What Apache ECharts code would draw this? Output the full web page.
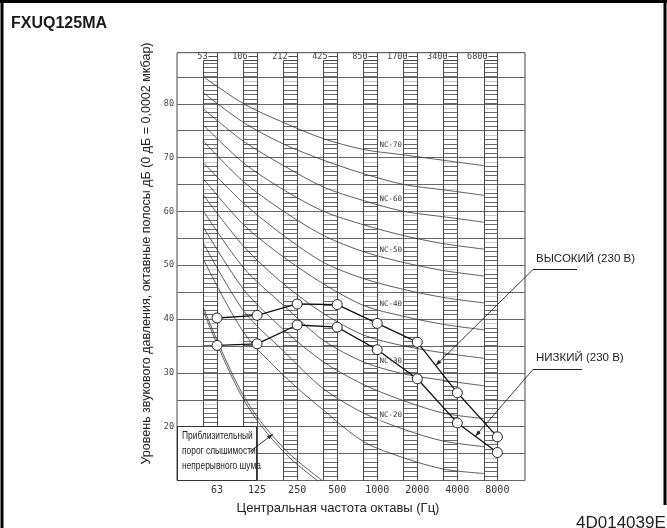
<!DOCTYPE html>
<html><head><meta charset="utf-8">
<script src="https://cdn.jsdelivr.net/npm/echarts@6/dist/echarts.min.js"></script>
<style>html,body{margin:0;padding:0;background:#fff}#c{width:667px;height:528px}</style>
</head><body><div id="c"></div>
<script>
// ---------- data ----------
const freqLabels = ['63', '125', '250', '500', '1000', '2000', '4000', '8000'];
const bandEdgeLabels = ['53', '106', '212', '425', '850', '1700', '3400', '6800'];
const yTickLabels = [20, 30, 40, 50, 60, 70, 80];
const highLevels = [40.2, 40.7, 42.8, 42.7, 39.2, 35.7, 26.3, 18.1];
const lowLevels = [35.1, 35.4, 38.9, 38.5, 34.3, 28.9, 20.7, 15.2];
const nc70 = [85, 80, 76.5, 73.5, 71.5, 70.5, 69.5, 68.5];
const nc65 = [82, 76.5, 72.5, 69.5, 67, 65, 64, 63];
const nc60 = [79, 73, 68.5, 64.5, 62, 60, 59, 58];
const nc55 = [76, 69, 64, 60, 57.5, 55.5, 54, 53];
const nc50 = [73, 65.5, 60, 55.5, 52.5, 50.5, 49, 48];
const nc45 = [69, 61.5, 55.5, 50.5, 47.5, 45.5, 44, 43];
const nc40 = [66, 57.5, 51.5, 46.5, 42.5, 40.5, 39, 38];
const nc35 = [63, 53.5, 46.5, 41, 37, 35, 33.7, 32.7];
const nc30 = [60, 49.5, 42.5, 36, 32, 29.8, 28.6, 27.6];
const nc25 = [57, 45.5, 38, 32, 27.8, 24.8, 22.5, 21.5];
const nc20 = [54, 41.5, 34, 27, 22.5, 19.5, 17.3, 16.3];
const nc15 = [51, 37.5, 29.5, 23, 17.2, 14.2, 12.1, 11.3];
const ncNames = ['NC-70', 'NC-65', 'NC-60', 'NC-55', 'NC-50', 'NC-45', 'NC-40', 'NC-35', 'NC-30', 'NC-25', 'NC-20', 'NC-15'];
const labeledNC = ['NC-70', 'NC-60', 'NC-50', 'NC-40', 'NC-30', 'NC-20'];
const thresholdA = [42, 25.7, 16, 9.8];
const thresholdB = [41.3, 25.0, 15.3, 9.1];
const highName = 'ВЫСОКИЙ (230 В)';
const lowName = 'НИЗКИЙ (230 В)';
const thresholdText = ['Приблизительный', 'порог слышимости', 'непрерывного шума'];

// ---------- layout ----------
const X_MIN = -1, X_MAX = 7.69, Y_MIN = 10, Y_MAX = 89.5;
const COL_W = 1 / 3, COL_TOP = 88, HATCH = 5 / 6, NC_OFFSET = -1 / 3;
const LABEL_T = 0.67, LABEL_LIFT = 1.6;
const ncCurves = [nc70, nc65, nc60, nc55, nc50, nc45, nc40, nc35, nc30, nc25, nc20, nc15];
const mono = '"DejaVu Sans Mono", monospace';
const sans = '"Liberation Sans", Arial, sans-serif';
const snap = v => Math.round(v - 0.5) + 0.5;

function renderColumn(params, api) {
  const i = api.value(0);
  const xl = snap(api.coord([i - COL_W, Y_MIN])[0]);
  const c = api.coord([i, Y_MIN]);
  const xr = snap(c[0]);
  const yb = c[1];
  const yt = snap(api.coord([i, COL_TOP])[1]);
  const yf = api.coord([i, Y_MAX])[1];
  const ch = [];
  for (let j = 1; Y_MIN + j * HATCH < COL_TOP - 0.05; j++) {
    const y = snap(api.coord([i, Y_MIN + j * HATCH])[1]);
    ch.push({type: 'line', shape: {x1: xl, y1: y, x2: xr, y2: y},
      style: {stroke: j % 6 === 5 ? '#c8c8c8' : '#6a6a6a', lineWidth: 1}});
  }
  const st = {stroke: '#4a4a4a', lineWidth: 1};
  ch.push({type: 'line', shape: {x1: xl, y1: yb, x2: xl, y2: yt}, style: st});
  ch.push({type: 'line', shape: {x1: xr, y1: yb, x2: xr, y2: yf}, style: st});
  ch.push({type: 'line', shape: {x1: xl, y1: yt, x2: xr, y2: yt}, style: st});
  const ly = snap(yf + 4);
  ch.push({type: 'line', shape: {x1: xr - 9, y1: ly, x2: xr, y2: ly}, style: st});
  ch.push({type: 'text', style: {text: bandEdgeLabels[i], x: xr - 10, y: ly + 0.5, align: 'right',
    verticalAlign: 'middle', font: '8.5px ' + mono, fill: '#444'}});
  return {type: 'group', children: ch};
}

const ncLabelData = [];
ncCurves.forEach((cv, n) => {
  if (labeledNC.indexOf(ncNames[n]) >= 0) {
    ncLabelData.push([4 + LABEL_T + NC_OFFSET, cv[4] + LABEL_T * (cv[5] - cv[4]) + LABEL_LIFT, ncNames[n]]);
  }
});
function renderNcLabel(params, api) {
  const p = api.coord([api.value(0), api.value(1)]);
  return {type: 'text', style: {text: ncLabelData[params.dataIndex][2], x: p[0], y: p[1],
    align: 'center', verticalAlign: 'middle', font: '7.5px ' + mono, fill: '#333',
    backgroundColor: '#fff', padding: [1, 1]}};
}

const series = [];
series.push({type: 'custom', renderItem: renderColumn, silent: true, z: 1,
  data: freqLabels.map((f, i) => [i, Y_MIN])});
ncCurves.forEach((cv, n) => {
  series.push({type: 'line', name: ncNames[n], data: cv.map((v, k) => [k + NC_OFFSET, v]),
    smooth: 0.3, symbol: 'none', silent: true, z: 2,
    lineStyle: {color: '#333', width: 0.8}});
});
[thresholdA, thresholdB].forEach(tv => {
  series.push({type: 'line', data: tv.map((v, k) => [k + NC_OFFSET, v]), smooth: 0.35,
    symbol: 'none', silent: true, z: 2, clip: true, lineStyle: {color: '#333', width: 0.8}});
});
series.push({type: 'custom', renderItem: renderNcLabel, silent: true, z: 3, data: ncLabelData});
[highLevels, lowLevels].forEach((lv, n) => {
  series.push({type: 'line', name: n ? lowName : highName, data: lv.map((v, i) => [i, v]),
    symbol: 'circle', symbolSize: 10, silent: true, z: 4,
    lineStyle: {color: '#111', width: 1.3},
    itemStyle: {color: '#fff', borderColor: '#222', borderWidth: 1}});
});

const chart = echarts.init(document.getElementById('c'), null, {renderer: 'canvas'});
chart.setOption({
  animation: false,
  backgroundColor: '#fff',
  grid: {left: 177, right: 142, top: 52.7, bottom: 47.5, show: true, borderColor: '#444', borderWidth: 1},
  xAxis: {type: 'value', min: X_MIN, max: X_MAX,
    axisLine: {show: false}, axisTick: {show: false}, splitLine: {show: false},
    axisLabel: {customValues: freqLabels.map((f, i) => i), formatter: v => freqLabels[Math.round(v)],
      margin: 5, fontFamily: '"DejaVu Sans Mono", monospace', fontSize: 10, color: '#333'}},
  yAxis: {type: 'value', min: Y_MIN, max: Y_MAX, interval: 5,
    axisLine: {show: false}, axisTick: {show: false},
    splitLine: {show: true, lineStyle: {color: '#666', width: 1}},
    axisLabel: {formatter: v => (yTickLabels.indexOf(v) >= 0 ? String(v) : ''), margin: 3,
      fontFamily: '"DejaVu Sans Mono", monospace', fontSize: 8.5, color: '#444'}},
  series: series
});

// ---------- annotations ----------
const px = (x, y) => chart.convertToPixel({gridIndex: 0}, [x, y]);
function arrow(from, to, color) {
  const dx = to[0] - from[0], dy = to[1] - from[1];
  const L = Math.sqrt(dx * dx + dy * dy), ux = dx / L, uy = dy / L;
  const bx = to[0] - ux * 6, by = to[1] - uy * 6;
  return [
    {type: 'line', z: 100, shape: {x1: from[0], y1: from[1], x2: to[0], y2: to[1]}, style: {stroke: color, lineWidth: 0.9}},
    {type: 'polygon', z: 100, shape: {points: [to, [bx - uy * 2, by + ux * 2], [bx + uy * 2, by - ux * 2]]}, style: {fill: color}}
  ];
}
const tH = 0.46, tL = 0.45, tT = 0.73;
const tipHigh = px(5 + tH, highLevels[5] + tH * (highLevels[6] - highLevels[5]));
const tipLow = px(6 + tL, lowLevels[6] + tL * (lowLevels[7] - lowLevels[6]));
const tipThr = px(1 + tT + NC_OFFSET, thresholdA[1] + tT * (thresholdA[2] - thresholdA[1]));

const g = [];
// outer frame
g.push({type: 'line', z: 100, shape: {x1: 2, y1: 0, x2: 2, y2: 528}, style: {stroke: '#000', lineWidth: 3}});
g.push({type: 'line', z: 100, shape: {x1: 0, y1: 1.5, x2: 667, y2: 1.5}, style: {stroke: '#000', lineWidth: 3}});
g.push({type: 'line', z: 100, shape: {x1: 665, y1: 0, x2: 665, y2: 505}, style: {stroke: '#000', lineWidth: 3}});
g.push({type: 'text', z: 100, x: 11, y: 24, style: {text: 'FXUQ125MA', font: 'bold 16px ' + sans, fill: '#1a1a1a', verticalAlign: 'middle'}});
g.push({type: 'text', z: 100, x: 147, y: 253.5, rotation: Math.PI / 2,
  style: {text: 'Уровень звукового давления, октавные полосы дБ (0 дБ = 0,0002 мкбар)', font: '12.5px ' + sans,
    fill: '#222', align: 'center', verticalAlign: 'middle'}});
g.push({type: 'text', z: 100, x: 338, y: 508, style: {text: 'Центральная частота октавы (Гц)', font: '13px ' + sans,
  fill: '#222', align: 'center', verticalAlign: 'middle'}});
g.push({type: 'text', z: 100, x: 576, y: 523, style: {text: '4D014039E', font: '17px ' + sans, fill: '#222', verticalAlign: 'middle'}});
// high / low labels
g.push({type: 'text', z: 100, x: 536, y: 259, style: {text: highName, font: '11.5px ' + sans, fill: '#222', verticalAlign: 'middle'}});
g.push({type: 'line', z: 100, shape: {x1: 533, y1: 269.5, x2: 577, y2: 269.5}, style: {stroke: '#222', lineWidth: 1}});
g.push(...arrow([533, 269.5], tipHigh, '#222'));
g.push({type: 'text', z: 100, x: 536, y: 358, style: {text: lowName, font: '11.5px ' + sans, fill: '#222', verticalAlign: 'middle'}});
g.push({type: 'line', z: 100, shape: {x1: 533, y1: 369.5, x2: 582, y2: 369.5}, style: {stroke: '#222', lineWidth: 1}});
g.push(...arrow([533, 369.5], tipLow, '#222'));
// threshold box
const boxL = px(X_MIN, Y_MIN)[0];
g.push({type: 'rect', z: 99, shape: {x: boxL + 0.5, y: 426.5, width: 79, height: 54}, style: {fill: '#fff', stroke: '#333', lineWidth: 1}});
thresholdText.forEach((t, i) => {
  g.push({type: 'text', z: 100, x: 182, y: 436.5 + i * 15, scaleX: 0.8,
    style: {text: t, font: '10.5px ' + sans, fill: '#222', verticalAlign: 'middle'}});
});
g.push(...arrow([250, 451.5], tipThr, '#222'));
chart.setOption({graphic: {elements: g}});
</script>
</body></html>
